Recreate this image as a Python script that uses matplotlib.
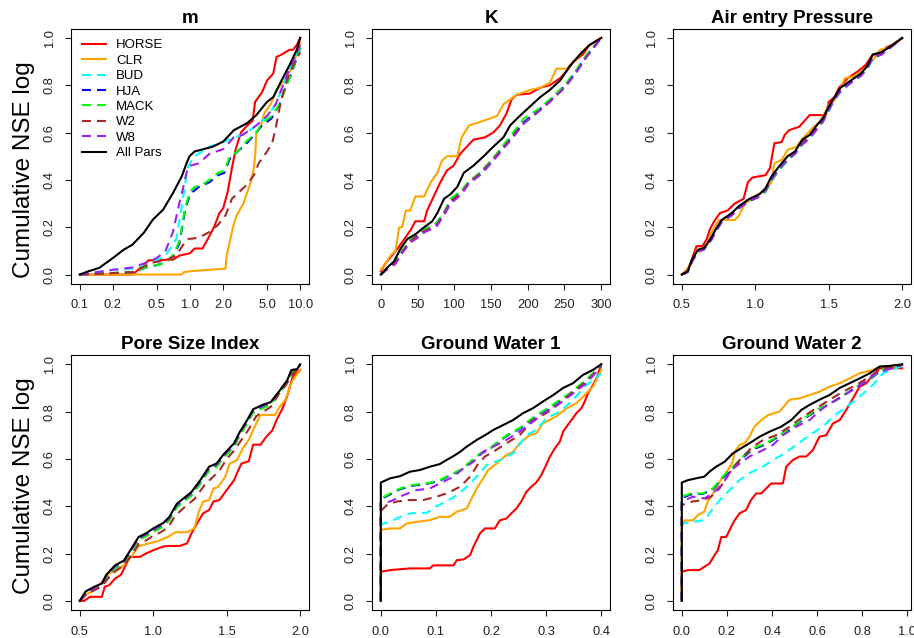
import matplotlib
matplotlib.use("Agg")
import matplotlib.pyplot as plt
from matplotlib.ticker import NullLocator

plt.rcParams['font.family'] = ['Liberation Sans', 'DejaVu Sans']

# series drawn in every panel, in drawing order
SERIES = ["HORSE", "CLR", "BUD", "HJA", "MACK", "W2", "W8", "All Pars"]
COLORS = ["#FF0000", "#FFA500", "#00FFFF", "#0000FF", "#00FF00", "#A52A2A", "#A020F0", "#000000"]
DASHED = [False, False, True, True, True, True, True, False]

# ---- panel "m" (log x axis) ----
M_DATA = {
    "HORSE": [(0.1, 0), (0.3, 0), (0.36, 0.03), (0.42, 0.06), (0.7, 0.063), (0.8, 0.08), (1.0, 0.09), (1.1, 0.11),
              (1.3, 0.11), (1.45, 0.15), (1.65, 0.2), (1.85, 0.26), (2.0, 0.28), (2.2, 0.35), (2.4, 0.45), (2.6, 0.53),
              (2.9, 0.6), (3.3, 0.63), (3.7, 0.65), (3.9, 0.73), (4.5, 0.77), (5.0, 0.82), (5.7, 0.85), (6.1, 0.92),
              (6.8, 0.93), (8.0, 0.95), (8.6, 0.95), (9.3, 0.97), (10, 1.0)],
    "CLR": [(0.1, 0), (0.84, 0), (0.88, 0.01), (1.05, 0.015), (1.5, 0.02), (2.1, 0.025), (2.15, 0.08), (2.3, 0.14),
            (2.45, 0.2), (2.65, 0.25), (3.05, 0.3), (3.5, 0.38), (3.8, 0.45), (3.9, 0.5), (4.0, 0.6), (4.4, 0.63),
            (4.7, 0.68), (5.4, 0.72), (6.1, 0.78), (7.2, 0.82), (8.1, 0.86), (9.3, 0.93), (10, 0.98)],
    "BUD": [(0.1, 0), (0.2, 0.02), (0.3, 0.025), (0.4, 0.04), (0.6, 0.08), (0.75, 0.15), (0.85, 0.3), (0.95, 0.45),
            (1.0, 0.47), (1.1, 0.5), (1.5, 0.54), (2.0, 0.56), (2.5, 0.58), (3.0, 0.59), (3.5, 0.61), (4.0, 0.63),
            (4.5, 0.65), (5.0, 0.67), (6.0, 0.72), (7.0, 0.8), (8.0, 0.87), (9.0, 0.92), (10, 0.95)],
    "HJA": [(0.1, 0), (0.3, 0.01), (0.4, 0.03), (0.5, 0.04), (0.6, 0.05), (0.7, 0.08), (0.8, 0.13), (0.9, 0.27),
            (1.0, 0.34), (1.2, 0.37), (1.5, 0.39), (1.8, 0.42), (2.05, 0.43), (2.3, 0.49), (2.7, 0.52), (3.2, 0.55),
            (4.0, 0.6), (4.5, 0.63), (5.5, 0.66), (6.5, 0.72), (7.5, 0.8), (8.5, 0.86), (10, 0.96)],
    "MACK": [(0.1, 0), (0.3, 0.01), (0.4, 0.03), (0.5, 0.04), (0.6, 0.05), (0.7, 0.08), (0.8, 0.14), (0.9, 0.28),
             (1.0, 0.35), (1.1, 0.37), (1.3, 0.38), (1.5, 0.4), (1.8, 0.43), (2.05, 0.44), (2.3, 0.5), (2.7, 0.52),
             (3.2, 0.56), (4.0, 0.6), (4.5, 0.64), (5.5, 0.67), (6.5, 0.72), (7.5, 0.8), (8.5, 0.86), (10, 0.96)],
    "W2": [(0.1, 0), (0.3, 0.01), (0.45, 0.05), (0.6, 0.06), (0.75, 0.08), (0.85, 0.12), (0.95, 0.15), (1.2, 0.155),
           (1.5, 0.18), (1.8, 0.21), (2.1, 0.25), (2.4, 0.32), (2.8, 0.35), (3.3, 0.38), (3.8, 0.42), (4.2, 0.47),
           (5.0, 0.52), (5.6, 0.56), (6.0, 0.62), (6.6, 0.72), (7.3, 0.8), (8.0, 0.85), (9.0, 0.9), (10, 0.94)],
    "W8": [(0.1, 0), (0.2, 0.02), (0.3, 0.03), (0.4, 0.05), (0.5, 0.07), (0.6, 0.1), (0.7, 0.18), (0.8, 0.3),
           (0.88, 0.38), (0.95, 0.45), (1.0, 0.46), (1.2, 0.47), (1.5, 0.51), (2.0, 0.53), (2.5, 0.58), (3.0, 0.59),
           (4.0, 0.63), (5.0, 0.67), (6.0, 0.72), (7.0, 0.8), (8.0, 0.87), (10, 0.97)],
    "All Pars": [(0.1, 0), (0.12, 0.014), (0.15, 0.028), (0.2, 0.07), (0.25, 0.105), (0.3, 0.126), (0.38, 0.176),
                 (0.46, 0.232), (0.57, 0.274), (0.7, 0.344), (0.84, 0.414), (0.93, 0.47), (0.99, 0.5), (1.1, 0.52),
                 (1.6, 0.54), (2.0, 0.562), (2.5, 0.61), (3.3, 0.64), (4.0, 0.674), (5.0, 0.73), (5.7, 0.75),
                 (6.6, 0.81), (8.1, 0.89), (9.3, 0.95), (10, 1.0)],
}

# ---- panel "K" ----
K_DATA = {
    "HORSE": [(0, 0.014), (7, 0.05), (16, 0.084), (23, 0.11), (32, 0.15), (41, 0.19), (47, 0.225), (59, 0.225),
              (63, 0.27), (72, 0.33), (81, 0.39), (90, 0.44), (99, 0.46), (108, 0.51), (117, 0.54), (126, 0.57),
              (142, 0.58), (153, 0.6), (162, 0.63), (171, 0.68), (178, 0.74), (185, 0.76), (203, 0.765),
              (217, 0.79), (230, 0.8), (244, 0.83), (253, 0.86), (262, 0.9), (275, 0.93), (284, 0.97), (300, 1.0)],
    "CLR": [(0, 0.02), (7, 0.05), (13, 0.08), (20, 0.1), (25, 0.2), (29, 0.2), (34, 0.27), (40, 0.27), (47, 0.33),
            (59, 0.33), (68, 0.39), (77, 0.43), (83, 0.48), (90, 0.5), (104, 0.5), (110, 0.58), (120, 0.63),
            (135, 0.645), (149, 0.66), (158, 0.67), (167, 0.72), (176, 0.74), (185, 0.76), (203, 0.78),
            (217, 0.79), (230, 0.81), (239, 0.87), (253, 0.87), (266, 0.91), (280, 0.96), (300, 1.0)],
    "BUD": [(0, 0), (10, 0.025), (20, 0.05), (30, 0.1), (40, 0.14), (50, 0.16), (60, 0.18), (75, 0.21), (85, 0.25),
            (95, 0.31), (110, 0.35), (120, 0.39), (135, 0.42), (150, 0.47), (165, 0.53), (180, 0.58), (195, 0.64),
            (215, 0.69), (230, 0.73), (250, 0.79), (265, 0.85), (280, 0.92), (300, 1.0)],
    "HJA": [(0, 0), (10, 0.03), (20, 0.055), (30, 0.1), (40, 0.145), (50, 0.165), (60, 0.19), (75, 0.215),
            (85, 0.255), (95, 0.315), (110, 0.355), (120, 0.39), (135, 0.43), (150, 0.48), (165, 0.535), (180, 0.59),
            (195, 0.645), (215, 0.695), (230, 0.735), (250, 0.795), (265, 0.855), (280, 0.925), (300, 1.0)],
    "MACK": [(0, 0), (10, 0.03), (20, 0.055), (30, 0.105), (40, 0.145), (50, 0.165), (60, 0.19), (75, 0.215),
             (85, 0.255), (95, 0.32), (110, 0.355), (120, 0.395), (135, 0.43), (150, 0.48), (165, 0.54), (180, 0.6),
             (195, 0.66), (215, 0.7), (230, 0.74), (250, 0.8), (265, 0.86), (280, 0.93), (300, 1.0)],
    "W2": [(0, 0), (10, 0.03), (20, 0.05), (30, 0.1), (40, 0.14), (50, 0.165), (60, 0.185), (75, 0.205), (85, 0.25),
           (95, 0.31), (110, 0.345), (120, 0.39), (135, 0.425), (150, 0.475), (165, 0.53), (180, 0.585), (195, 0.64),
           (215, 0.69), (230, 0.73), (250, 0.79), (265, 0.85), (280, 0.92), (300, 1.0)],
    "W8": [(0, 0), (10, 0.025), (20, 0.045), (30, 0.095), (40, 0.135), (50, 0.155), (60, 0.18), (75, 0.2), (85, 0.245),
           (95, 0.3), (110, 0.34), (120, 0.385), (135, 0.42), (150, 0.47), (165, 0.525), (180, 0.58), (195, 0.64),
           (215, 0.69), (230, 0.73), (250, 0.79), (265, 0.85), (280, 0.92), (300, 1.0)],
    "All Pars": [(0, 0), (9, 0.03), (18, 0.056), (27, 0.11), (36, 0.15), (47, 0.17), (59, 0.2), (70, 0.225),
                 (77, 0.26), (86, 0.32), (95, 0.34), (104, 0.37), (113, 0.43), (126, 0.46), (140, 0.5), (153, 0.54),
                 (167, 0.58), (176, 0.63), (189, 0.67), (203, 0.71), (217, 0.75), (230, 0.78), (244, 0.82),
                 (257, 0.88), (271, 0.93), (284, 0.97), (300, 1.0)],
}

# ---- panel "Air entry Pressure" ----
AIR_DATA = {
    "HORSE": [(0.5, 0), (0.53, 0.007), (0.56, 0.05), (0.6, 0.12), (0.64, 0.12), (0.67, 0.15), (0.69, 0.19),
              (0.72, 0.225), (0.76, 0.26), (0.81, 0.27), (0.86, 0.3), (0.92, 0.32), (0.95, 0.39), (0.98, 0.41),
              (1.07, 0.42), (1.1, 0.45), (1.13, 0.555), (1.18, 0.56), (1.2, 0.59), (1.23, 0.61), (1.3, 0.625),
              (1.33, 0.646), (1.37, 0.674), (1.48, 0.674), (1.5, 0.73), (1.54, 0.75), (1.57, 0.79), (1.63, 0.83),
              (1.7, 0.86), (1.75, 0.885), (1.8, 0.93), (1.85, 0.93), (1.89, 0.96), (1.95, 0.975), (2.0, 1.0)],
    "CLR": [(0.5, 0), (0.56, 0.04), (0.6, 0.1), (0.67, 0.12), (0.7, 0.175), (0.75, 0.23), (0.86, 0.23), (0.89, 0.25),
            (0.93, 0.3), (1.0, 0.33), (1.07, 0.36), (1.11, 0.39), (1.13, 0.47), (1.18, 0.485), (1.22, 0.527),
            (1.28, 0.54), (1.33, 0.58), (1.39, 0.62), (1.44, 0.646), (1.5, 0.716), (1.54, 0.737), (1.61, 0.83),
            (1.66, 0.835), (1.72, 0.857), (1.78, 0.89), (1.85, 0.95), (1.91, 0.96), (1.95, 0.98), (2.0, 1.0)],
    "BUD": [(0.5, 0), (0.54, 0.01), (0.57, 0.055), (0.61, 0.1), (0.65, 0.105), (0.7, 0.145), (0.73, 0.18),
            (0.77, 0.22), (0.84, 0.25), (0.89, 0.28), (0.96, 0.31), (1.03, 0.33), (1.07, 0.35), (1.11, 0.395),
            (1.16, 0.44), (1.22, 0.48), (1.27, 0.51), (1.32, 0.55), (1.37, 0.575), (1.42, 0.615), (1.46, 0.645),
            (1.5, 0.69), (1.54, 0.74), (1.58, 0.77), (1.65, 0.81), (1.72, 0.84), (1.76, 0.865), (1.8, 0.91),
            (1.86, 0.93), (1.91, 0.955), (2.0, 1.0)],
    "HJA": [(0.5, 0), (0.54, 0.012), (0.57, 0.06), (0.61, 0.1), (0.65, 0.108), (0.7, 0.15), (0.73, 0.185),
            (0.77, 0.225), (0.84, 0.255), (0.89, 0.285), (0.96, 0.315), (1.03, 0.335), (1.07, 0.355), (1.11, 0.4),
            (1.16, 0.445), (1.22, 0.49), (1.27, 0.515), (1.32, 0.555), (1.37, 0.58), (1.42, 0.62), (1.46, 0.65),
            (1.5, 0.7), (1.54, 0.745), (1.58, 0.78), (1.65, 0.815), (1.72, 0.845), (1.76, 0.875), (1.8, 0.92),
            (1.86, 0.935), (1.91, 0.955), (2.0, 1.0)],
    "MACK": [(0.5, 0), (0.54, 0.012), (0.57, 0.058), (0.61, 0.1), (0.65, 0.108), (0.7, 0.15), (0.73, 0.185),
             (0.77, 0.225), (0.84, 0.255), (0.89, 0.285), (0.96, 0.31), (1.03, 0.33), (1.07, 0.35), (1.11, 0.395),
             (1.16, 0.44), (1.22, 0.485), (1.27, 0.51), (1.32, 0.55), (1.37, 0.575), (1.42, 0.62), (1.46, 0.65),
             (1.5, 0.7), (1.54, 0.745), (1.58, 0.78), (1.65, 0.815), (1.72, 0.845), (1.76, 0.875), (1.8, 0.92),
             (1.86, 0.935), (1.91, 0.955), (2.0, 1.0)],
    "W2": [(0.5, 0), (0.54, 0.012), (0.57, 0.06), (0.61, 0.1), (0.65, 0.11), (0.7, 0.15), (0.73, 0.185),
           (0.77, 0.225), (0.84, 0.255), (0.89, 0.285), (0.96, 0.315), (1.03, 0.335), (1.07, 0.36), (1.11, 0.405),
           (1.16, 0.45), (1.22, 0.49), (1.27, 0.515), (1.32, 0.56), (1.37, 0.58), (1.42, 0.625), (1.46, 0.655),
           (1.5, 0.705), (1.54, 0.745), (1.58, 0.785), (1.65, 0.815), (1.72, 0.845), (1.76, 0.875), (1.8, 0.92),
           (1.86, 0.935), (1.91, 0.955), (2.0, 1.0)],
    "W8": [(0.5, 0), (0.54, 0.01), (0.57, 0.055), (0.61, 0.095), (0.65, 0.105), (0.7, 0.145), (0.73, 0.18),
           (0.77, 0.22), (0.84, 0.25), (0.89, 0.28), (0.96, 0.31), (1.03, 0.33), (1.07, 0.355), (1.11, 0.4),
           (1.16, 0.445), (1.22, 0.485), (1.27, 0.51), (1.32, 0.55), (1.37, 0.575), (1.42, 0.615), (1.46, 0.645),
           (1.5, 0.695), (1.54, 0.74), (1.58, 0.775), (1.65, 0.81), (1.72, 0.84), (1.76, 0.87), (1.8, 0.915),
           (1.86, 0.93), (1.91, 0.955), (2.0, 1.0)],
    "All Pars": [(0.5, 0), (0.54, 0.014), (0.57, 0.063), (0.61, 0.105), (0.65, 0.112), (0.7, 0.155), (0.73, 0.19),
                 (0.77, 0.23), (0.84, 0.26), (0.89, 0.29), (0.96, 0.32), (1.03, 0.34), (1.07, 0.365), (1.11, 0.414),
                 (1.16, 0.456), (1.22, 0.5), (1.27, 0.52), (1.32, 0.57), (1.37, 0.59), (1.42, 0.632), (1.46, 0.66),
                 (1.5, 0.71), (1.54, 0.75), (1.58, 0.79), (1.65, 0.82), (1.72, 0.85), (1.76, 0.88), (1.8, 0.93),
                 (1.86, 0.94), (1.91, 0.96), (2.0, 1.0)],
}

# ---- panel "Pore Size Index" ----
PORE_DATA = {
    "HORSE": [(0.5, 0), (0.53, 0), (0.57, 0.017), (0.65, 0.017), (0.67, 0.06), (0.7, 0.066), (0.74, 0.094),
              (0.78, 0.11), (0.82, 0.16), (0.84, 0.186), (0.91, 0.186), (0.95, 0.2), (1.0, 0.214), (1.07, 0.23),
              (1.11, 0.232), (1.18, 0.232), (1.23, 0.243), (1.26, 0.285), (1.31, 0.34), (1.34, 0.37), (1.38, 0.384),
              (1.41, 0.42), (1.45, 0.426), (1.5, 0.468), (1.55, 0.51), (1.57, 0.54), (1.6, 0.58), (1.65, 0.59),
              (1.68, 0.66), (1.73, 0.66), (1.77, 0.694), (1.81, 0.72), (1.84, 0.765), (1.88, 0.814), (1.91, 0.863),
              (1.93, 0.905), (1.95, 0.95), (2.0, 0.976)],
    "CLR": [(0.5, 0), (0.53, 0.024), (0.58, 0.038), (0.62, 0.06), (0.66, 0.087), (0.7, 0.116), (0.76, 0.13),
            (0.81, 0.158), (0.85, 0.186), (0.9, 0.23), (0.95, 0.24), (1.02, 0.25), (1.1, 0.27), (1.15, 0.29),
            (1.23, 0.29), (1.28, 0.306), (1.31, 0.377), (1.34, 0.42), (1.38, 0.426), (1.41, 0.475), (1.44, 0.48),
            (1.49, 0.525), (1.52, 0.58), (1.57, 0.595), (1.61, 0.645), (1.65, 0.68), (1.69, 0.736), (1.73, 0.786),
            (1.83, 0.786), (1.86, 0.82), (1.9, 0.85), (1.93, 0.905), (1.95, 0.934), (2.0, 0.976)],
    "BUD": [(0.5, 0), (0.54, 0.03), (0.6, 0.05), (0.65, 0.065), (0.68, 0.1), (0.74, 0.14), (0.8, 0.16), (0.83, 0.19),
            (0.86, 0.22), (0.9, 0.26), (0.95, 0.275), (1.0, 0.295), (1.07, 0.32), (1.11, 0.345), (1.16, 0.4),
            (1.22, 0.43), (1.26, 0.45), (1.32, 0.5), (1.38, 0.555), (1.43, 0.57), (1.48, 0.61), (1.55, 0.655),
            (1.59, 0.705), (1.64, 0.755), (1.68, 0.8), (1.75, 0.82), (1.8, 0.835), (1.85, 0.875), (1.91, 0.925),
            (1.94, 0.97), (2.0, 0.995)],
    "HJA": [(0.5, 0), (0.54, 0.03), (0.6, 0.052), (0.65, 0.066), (0.68, 0.1), (0.74, 0.14), (0.8, 0.162),
            (0.83, 0.19), (0.86, 0.22), (0.9, 0.26), (0.95, 0.275), (1.0, 0.295), (1.07, 0.32), (1.11, 0.345),
            (1.16, 0.4), (1.22, 0.43), (1.26, 0.45), (1.32, 0.5), (1.38, 0.555), (1.43, 0.57), (1.48, 0.61),
            (1.55, 0.655), (1.59, 0.705), (1.64, 0.755), (1.68, 0.8), (1.75, 0.82), (1.8, 0.835), (1.85, 0.875),
            (1.91, 0.925), (1.94, 0.97), (2.0, 0.995)],
    "MACK": [(0.5, 0), (0.54, 0.03), (0.6, 0.05), (0.65, 0.065), (0.68, 0.098), (0.74, 0.138), (0.8, 0.16),
             (0.83, 0.188), (0.86, 0.218), (0.9, 0.258), (0.95, 0.272), (1.0, 0.29), (1.07, 0.315), (1.11, 0.34),
             (1.16, 0.395), (1.22, 0.425), (1.26, 0.445), (1.32, 0.495), (1.38, 0.55), (1.43, 0.565), (1.48, 0.605),
             (1.55, 0.65), (1.59, 0.7), (1.64, 0.75), (1.68, 0.795), (1.75, 0.815), (1.8, 0.83), (1.85, 0.87),
             (1.91, 0.92), (1.94, 0.965), (2.0, 0.995)],
    "W2": [(0.5, 0), (0.55, 0.03), (0.6, 0.045), (0.65, 0.062), (0.7, 0.1), (0.75, 0.13), (0.8, 0.15), (0.85, 0.19),
           (0.9, 0.24), (0.95, 0.255), (1.0, 0.275), (1.05, 0.29), (1.1, 0.31), (1.15, 0.36), (1.22, 0.4),
           (1.28, 0.43), (1.35, 0.49), (1.4, 0.52), (1.45, 0.55), (1.5, 0.6), (1.55, 0.635), (1.6, 0.68),
           (1.65, 0.725), (1.7, 0.78), (1.75, 0.8), (1.8, 0.82), (1.85, 0.87), (1.9, 0.91), (1.95, 0.96),
           (2.0, 0.99)],
    "W8": [(0.5, 0), (0.54, 0.032), (0.6, 0.055), (0.65, 0.07), (0.68, 0.105), (0.74, 0.145), (0.8, 0.165),
           (0.83, 0.195), (0.86, 0.225), (0.9, 0.265), (0.95, 0.28), (1.0, 0.3), (1.07, 0.325), (1.11, 0.35),
           (1.16, 0.405), (1.22, 0.435), (1.26, 0.455), (1.32, 0.505), (1.38, 0.56), (1.43, 0.575), (1.48, 0.615),
           (1.55, 0.66), (1.59, 0.71), (1.64, 0.76), (1.68, 0.805), (1.75, 0.825), (1.8, 0.84), (1.85, 0.88),
           (1.91, 0.93), (1.94, 0.972), (2.0, 0.997)],
    "All Pars": [(0.5, 0), (0.54, 0.04), (0.6, 0.06), (0.65, 0.073), (0.68, 0.11), (0.74, 0.15), (0.8, 0.17),
                 (0.83, 0.2), (0.86, 0.23), (0.9, 0.27), (0.95, 0.285), (1.0, 0.306), (1.07, 0.33), (1.11, 0.355),
                 (1.16, 0.41), (1.22, 0.44), (1.26, 0.46), (1.32, 0.51), (1.38, 0.567), (1.43, 0.58), (1.48, 0.62),
                 (1.55, 0.666), (1.59, 0.715), (1.64, 0.765), (1.68, 0.81), (1.75, 0.83), (1.8, 0.84), (1.85, 0.88),
                 (1.91, 0.93), (1.94, 0.975), (1.98, 0.98), (2.0, 1.0)],
}

# ---- panel "Ground Water 1" ----
GW1_DATA = {
    "HORSE": [(0, 0), (0, 0.123), (0.017, 0.13), (0.053, 0.137), (0.089, 0.137), (0.095, 0.15), (0.132, 0.15),
              (0.138, 0.172), (0.15, 0.175), (0.162, 0.193), (0.168, 0.228), (0.18, 0.285), (0.189, 0.306),
              (0.207, 0.306), (0.216, 0.34), (0.228, 0.348), (0.237, 0.37), (0.246, 0.39), (0.255, 0.42),
              (0.264, 0.46), (0.273, 0.482), (0.282, 0.5), (0.291, 0.53), (0.3, 0.574), (0.307, 0.61),
              (0.316, 0.645), (0.325, 0.673), (0.331, 0.716), (0.337, 0.736), (0.346, 0.764), (0.355, 0.793),
              (0.364, 0.814), (0.37, 0.842), (0.376, 0.877), (0.385, 0.912), (0.393, 0.948), (0.4, 1.0)],
    "CLR": [(0, 0), (0, 0.3), (0.017, 0.306), (0.035, 0.306), (0.047, 0.327), (0.065, 0.334), (0.089, 0.341),
            (0.107, 0.355), (0.125, 0.355), (0.138, 0.377), (0.156, 0.39), (0.162, 0.42), (0.174, 0.475),
            (0.186, 0.518), (0.195, 0.553), (0.21, 0.58), (0.228, 0.616), (0.24, 0.63), (0.252, 0.666),
            (0.27, 0.7), (0.282, 0.708), (0.294, 0.75), (0.319, 0.78), (0.337, 0.814), (0.355, 0.835),
            (0.367, 0.863), (0.385, 0.905), (0.4, 0.976)],
    "BUD": [(0, 0), (0, 0.324), (0.017, 0.334), (0.035, 0.355), (0.053, 0.37), (0.083, 0.372), (0.101, 0.4),
            (0.119, 0.42), (0.138, 0.447), (0.156, 0.482), (0.174, 0.525), (0.192, 0.574), (0.216, 0.595),
            (0.24, 0.623), (0.264, 0.7), (0.282, 0.722), (0.3, 0.77), (0.325, 0.8), (0.349, 0.85), (0.373, 0.912),
            (0.4, 0.96)],
    "HJA": [(0, 0), (0, 0.43), (0.017, 0.45), (0.035, 0.472), (0.059, 0.487), (0.083, 0.494), (0.107, 0.507),
            (0.125, 0.53), (0.144, 0.55), (0.162, 0.585), (0.18, 0.62), (0.198, 0.642), (0.216, 0.677),
            (0.234, 0.705), (0.252, 0.727), (0.27, 0.76), (0.288, 0.79), (0.307, 0.817), (0.325, 0.847),
            (0.343, 0.875), (0.361, 0.91), (0.379, 0.946), (0.4, 0.997)],
    "MACK": [(0, 0), (0, 0.433), (0.017, 0.454), (0.035, 0.475), (0.059, 0.49), (0.083, 0.496), (0.107, 0.51),
             (0.125, 0.532), (0.144, 0.553), (0.162, 0.588), (0.18, 0.623), (0.198, 0.645), (0.216, 0.68),
             (0.234, 0.708), (0.252, 0.73), (0.27, 0.764), (0.288, 0.793), (0.307, 0.82), (0.325, 0.85),
             (0.343, 0.877), (0.361, 0.912), (0.379, 0.948), (0.4, 0.997)],
    "W2": [(0, 0), (0, 0.38), (0.011, 0.405), (0.029, 0.42), (0.053, 0.426), (0.077, 0.426), (0.101, 0.44),
           (0.119, 0.454), (0.144, 0.482), (0.162, 0.525), (0.177, 0.58), (0.189, 0.61), (0.204, 0.63),
           (0.228, 0.666), (0.252, 0.7), (0.276, 0.764), (0.3, 0.793), (0.325, 0.835), (0.349, 0.884),
           (0.373, 0.927), (0.4, 0.99)],
    "W8": [(0, 0), (0, 0.415), (0.017, 0.42), (0.041, 0.447), (0.065, 0.468), (0.089, 0.475), (0.107, 0.496),
           (0.132, 0.525), (0.15, 0.56), (0.168, 0.588), (0.186, 0.63), (0.204, 0.652), (0.228, 0.68),
           (0.252, 0.715), (0.276, 0.757), (0.3, 0.8), (0.325, 0.835), (0.349, 0.877), (0.373, 0.92), (0.4, 0.99)],
    "All Pars": [(0, 0), (0, 0.5), (0.017, 0.518), (0.035, 0.527), (0.053, 0.546), (0.071, 0.553), (0.089, 0.567),
                 (0.107, 0.578), (0.119, 0.595), (0.132, 0.612), (0.144, 0.63), (0.156, 0.652), (0.174, 0.68),
                 (0.189, 0.7), (0.204, 0.722), (0.222, 0.743), (0.24, 0.764), (0.258, 0.793), (0.276, 0.814),
                 (0.294, 0.842), (0.313, 0.87), (0.331, 0.9), (0.349, 0.92), (0.367, 0.955), (0.385, 0.976),
                 (0.4, 1.0)],
}

# ---- panel "Ground Water 2" ----
GW2_DATA = {
    "HORSE": [(0, 0), (0, 0.123), (0.027, 0.13), (0.078, 0.13), (0.1, 0.144), (0.123, 0.158), (0.145, 0.193),
              (0.16, 0.214), (0.175, 0.27), (0.197, 0.27), (0.219, 0.313), (0.234, 0.34), (0.256, 0.37),
              (0.285, 0.384), (0.307, 0.426), (0.33, 0.454), (0.352, 0.454), (0.374, 0.475), (0.396, 0.496),
              (0.448, 0.496), (0.463, 0.567), (0.492, 0.595), (0.522, 0.61), (0.551, 0.61), (0.581, 0.637),
              (0.61, 0.694), (0.64, 0.7), (0.67, 0.75), (0.7, 0.764), (0.729, 0.807), (0.759, 0.856), (0.788, 0.905),
              (0.818, 0.92), (0.847, 0.955), (0.877, 0.983), (0.921, 0.983), (0.977, 0.983)],
    "CLR": [(0, 0), (0, 0.313), (0.012, 0.34), (0.049, 0.34), (0.071, 0.362), (0.1, 0.377), (0.115, 0.42),
            (0.138, 0.454), (0.167, 0.503), (0.204, 0.553), (0.226, 0.588), (0.234, 0.63), (0.256, 0.659),
            (0.278, 0.666), (0.3, 0.694), (0.322, 0.736), (0.352, 0.764), (0.382, 0.785), (0.433, 0.8),
            (0.478, 0.85), (0.522, 0.856), (0.566, 0.87), (0.61, 0.884), (0.655, 0.905), (0.7, 0.92),
            (0.744, 0.94), (0.788, 0.962), (0.847, 0.976), (0.877, 0.99), (0.921, 0.993), (0.977, 0.997)],
    "BUD": [(0, 0), (0, 0.327), (0.049, 0.334), (0.1, 0.341), (0.123, 0.37), (0.145, 0.4), (0.182, 0.44),
            (0.219, 0.475), (0.256, 0.51), (0.3, 0.54), (0.36, 0.567), (0.404, 0.595), (0.455, 0.623),
            (0.507, 0.659), (0.566, 0.7), (0.625, 0.736), (0.67, 0.778), (0.729, 0.82), (0.788, 0.863),
            (0.847, 0.912), (0.892, 0.962), (0.977, 0.993)],
    "HJA": [(0, 0), (0, 0.435), (0.041, 0.45), (0.093, 0.452), (0.138, 0.472), (0.182, 0.52), (0.226, 0.562),
            (0.27, 0.605), (0.315, 0.64), (0.374, 0.662), (0.433, 0.697), (0.492, 0.733), (0.551, 0.775),
            (0.61, 0.81), (0.67, 0.84), (0.729, 0.875), (0.788, 0.91), (0.847, 0.946), (0.906, 0.99),
            (0.977, 0.997)],
    "MACK": [(0, 0), (0, 0.44), (0.041, 0.454), (0.093, 0.454), (0.138, 0.475), (0.182, 0.525), (0.226, 0.567),
             (0.27, 0.61), (0.315, 0.645), (0.374, 0.666), (0.433, 0.7), (0.492, 0.736), (0.551, 0.778),
             (0.61, 0.814), (0.67, 0.842), (0.729, 0.877), (0.788, 0.912), (0.847, 0.948), (0.906, 0.99),
             (0.977, 0.997)],
    "W2": [(0, 0), (0, 0.405), (0.049, 0.42), (0.093, 0.426), (0.13, 0.44), (0.167, 0.475), (0.211, 0.54),
           (0.256, 0.595), (0.307, 0.645), (0.36, 0.68), (0.418, 0.7), (0.478, 0.736), (0.537, 0.778),
           (0.596, 0.814), (0.655, 0.85), (0.714, 0.884), (0.773, 0.912), (0.833, 0.948), (0.892, 0.983),
           (0.977, 0.997)],
    "W8": [(0, 0), (0, 0.42), (0.049, 0.44), (0.1, 0.433), (0.138, 0.454), (0.182, 0.496), (0.219, 0.553),
           (0.256, 0.58), (0.3, 0.61), (0.345, 0.63), (0.404, 0.659), (0.448, 0.7), (0.507, 0.736), (0.566, 0.764),
           (0.625, 0.814), (0.685, 0.85), (0.744, 0.884), (0.803, 0.92), (0.862, 0.962), (0.977, 0.997)],
    "All Pars": [(0, 0), (0, 0.5), (0.027, 0.51), (0.064, 0.518), (0.1, 0.525), (0.123, 0.546), (0.152, 0.567),
                 (0.19, 0.588), (0.226, 0.623), (0.263, 0.645), (0.3, 0.666), (0.345, 0.694), (0.389, 0.715),
                 (0.44, 0.736), (0.485, 0.764), (0.53, 0.807), (0.566, 0.828), (0.61, 0.85), (0.655, 0.87),
                 (0.7, 0.9), (0.744, 0.92), (0.788, 0.94), (0.833, 0.962), (0.877, 0.99), (0.921, 0.993),
                 (0.977, 1.0)],
}

Y_TICKS = [0.0, 0.2, 0.4, 0.6, 0.8, 1.0]
M_TICKS = [0.1, 0.2, 0.5, 1.0, 2.0, 5.0, 10.0]
K_TICKS = [0, 50, 100, 150, 200, 250, 300]
HALF_TICKS = [0.5, 1.0, 1.5, 2.0]
GW1_TICKS = [0.0, 0.1, 0.2, 0.3, 0.4]
GW2_TICKS = [0.0, 0.2, 0.4, 0.6, 0.8, 1.0]

W, H = 914.0, 638.0


def draw_panel(ax, title, data, xlim, xticks, xfmt, log=False, title_pad=4.0):
    """
    Draw all eight cumulative curves in one panel, R base-graphics look
    """
    for name, color, dashed in zip(SERIES, COLORS, DASHED):
        xs = [p[0] for p in data[name]]
        ys = [p[1] for p in data[name]]
        if dashed:
            ax.plot(xs, ys, color=color, lw=1.5, linestyle=(0, (4.3, 2.9)), label=name)
        else:
            ax.plot(xs, ys, color=color, lw=1.5, label=name)

    if log:
        ax.set_xscale('log')
    ax.set_xlim(xlim)
    ax.set_ylim(-0.04, 1.04)
    ax.set_xticks(xticks)
    ax.set_xticklabels([xfmt % t for t in xticks])
    ax.xaxis.set_minor_locator(NullLocator())
    ax.set_yticks(Y_TICKS)
    ax.set_yticklabels(["%.1f" % t for t in Y_TICKS], rotation=90, va='center')
    ax.tick_params(direction='out', length=4, width=0.8, labelsize=9.3, pad=7, colors='#222222')
    for sp in ax.spines.values():
        sp.set_linewidth(0.8)
    ax.set_title(title, fontsize=13.5, fontweight='bold', pad=title_pad)


def axes_at(left_px, top_px, width_px=238.0, height_px=255.5):
    return fig.add_axes([left_px / W, 1 - (top_px + height_px) / H, width_px / W, height_px / H])


fig = plt.figure(figsize=(W / 100, H / 100), dpi=100)

ax1 = axes_at(71, 28.5)
draw_panel(ax1, "m", M_DATA, (10 ** -1.08, 10 ** 1.08), M_TICKS, "%.1f", log=True)
ax1.legend(loc='upper left', bbox_to_anchor=(0.046, 0.958), frameon=False, fontsize=9.5,
           handlelength=1.8, handletextpad=0.8, labelspacing=0.24, borderpad=0, borderaxespad=0)

ax2 = axes_at(372, 28.5)
draw_panel(ax2, "K", K_DATA, (-12, 312), K_TICKS, "%d")

ax3 = axes_at(673, 28.5)
draw_panel(ax3, "Air entry Pressure", AIR_DATA, (0.44, 2.06), HALF_TICKS, "%.1f")

ax4 = axes_at(71, 354.8)
draw_panel(ax4, "Pore Size Index", PORE_DATA, (0.44, 2.06), HALF_TICKS, "%.1f", title_pad=4.5)

ax5 = axes_at(372, 354.8)
draw_panel(ax5, "Ground Water 1", GW1_DATA, (-0.016, 0.416), GW1_TICKS, "%.1f", title_pad=4.5)

ax6 = axes_at(673, 354.8)
draw_panel(ax6, "Ground Water 2", GW2_DATA, (-0.039, 1.016), GW2_TICKS, "%.1f", title_pad=4.5)

fig.text(24 / W, 1 - 170 / H, "Cumulative NSE log", rotation=90, fontsize=17.5, ha='center', va='center')
fig.text(24 / W, 1 - 486 / H, "Cumulative NSE log", rotation=90, fontsize=17.5, ha='center', va='center')

fig.savefig("out.png", dpi=100)
